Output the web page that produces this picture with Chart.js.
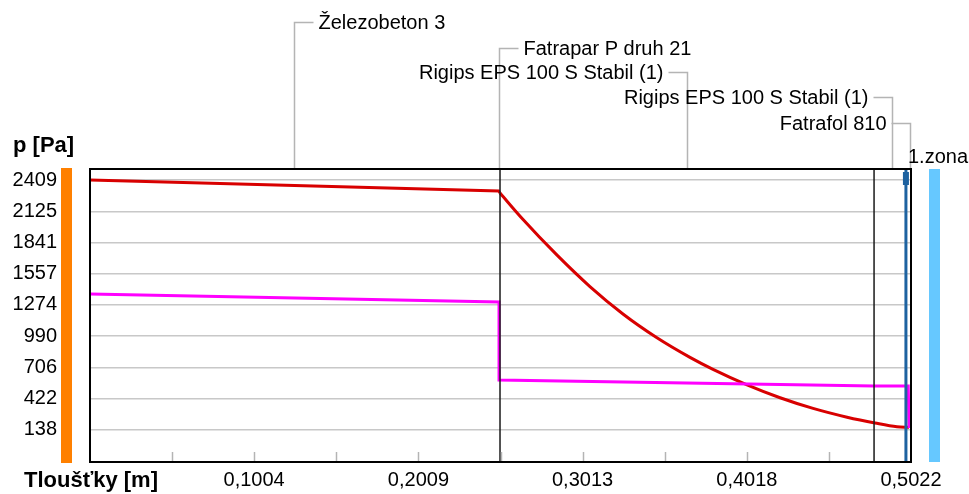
<!DOCTYPE html>
<html>
<head>
<meta charset="utf-8">
<script src="https://cdn.jsdelivr.net/npm/chart.js@4.4.1/dist/chart.umd.min.js"></script>
<style>
  html, body { margin: 0; padding: 0; background: #fff; }
  canvas { display: block; }
</style>
</head>
<body>
<canvas id="pressureChart" width="969" height="494"></canvas>
<script>
// Průběh tlaku vodní páry v konstrukci

// y axis
const pTicks = [138, 422, 706, 990, 1274, 1557, 1841, 2125, 2409];
const pMin = -153;
const pMax = 2518;

// x axis (labelled ticks + small ticks between them)
const xTicks = [0.1004, 0.2009, 0.3013, 0.4018, 0.5022];
const xTickLabels = ['0,1004', '0,2009', '0,3013', '0,4018', '0,5022'];
const xMinorTicks = [0.0502, 0.1506, 0.2511, 0.3515, 0.4520];

// layers of the wall
const layerNames = ['Železobeton 3', 'Fatrapar P druh 21', 'Rigips EPS 100 S Stabil (1)', 'Rigips EPS 100 S Stabil (1)', 'Fatrafol 810'];
const layerEdges = [0, 0.25, 0.2508, 0.4796, 0.5014, 0.5022];
const layerLines = [0.2508, 0.4796];

// saturated vapour pressure (red)
const psatX = [0, 0.25, 0.2508, 0.2649, 0.2857, 0.3058, 0.3260, 0.3468, 0.3670, 0.3811, 0.4019, 0.4221, 0.4423, 0.4631, 0.4802, 0.4936, 0.5010];
const psatY = [2409, 2309, 2291, 2050, 1726, 1441, 1192, 976, 798, 689, 548, 431, 334, 254, 201, 167, 162];

// partial vapour pressure (magenta)
const pX = [0, 0.2502, 0.2502, 0.4796, 0.5005, 0.5010];
const pY = [1373, 1301, 592, 538, 538, 156];

// condensation zone
const zoneX = 0.4991;
const zoneName = '1.zona';

const FONT = '"Liberation Sans", Arial, sans-serif';
const RED = '#d80000';

function pts(xs, ys) {
    return xs.map((x, i) => ({x: x, y: ys[i]}));
}

const datasets = [];

// layer boundaries
layerLines.forEach(b => {
    datasets.push({
        data: [{x: b, y: pMin}, {x: b, y: pMax}],
        borderColor: '#1a1a1a',
        borderWidth: 1.5,
        pointRadius: 0
    });
});

// zone line + small marker on top
datasets.push({
    data: [{x: zoneX, y: pMin}, {x: zoneX, y: pMax}],
    borderColor: '#1d62a0',
    borderWidth: 3,
    pointRadius: 0
});
datasets.push({
    data: [{x: zoneX, y: 2482}, {x: zoneX, y: 2364}],
    borderColor: '#1d62a0',
    borderWidth: 6,
    pointRadius: 0
});

datasets.push({
    label: 'p',
    data: pts(pX, pY),
    borderColor: '#ff00ff',
    borderWidth: 3,
    pointRadius: 0,
    tension: 0
});
// p,sat: straight through the concrete, curved in the insulation
datasets.push({
    label: 'p,sat',
    data: pts(psatX, psatY).slice(0, 3),
    borderColor: RED,
    borderWidth: 3,
    pointRadius: 0,
    tension: 0
});
datasets.push({
    label: 'p,sat',
    data: pts(psatX, psatY).slice(2),
    borderColor: RED,
    borderWidth: 3,
    pointRadius: 0,
    cubicInterpolationMode: 'monotone'
});

const decor = {
    id: 'decor',
    afterDatasetsDraw(chart) {
        const ctx = chart.ctx;
        const a = chart.chartArea;
        const xs = chart.scales.x;
        ctx.save();
        // small ticks inside the plot
        ctx.strokeStyle = '#b4b4b4';
        ctx.lineWidth = 1.5;
        xMinorTicks.concat(xTicks.slice(0, -1)).forEach(v => {
            const px = Math.round(xs.getPixelForValue(v)) + 0.5;
            ctx.beginPath();
            ctx.moveTo(px, a.bottom);
            ctx.lineTo(px, a.bottom - 10);
            ctx.stroke();
        });
        // frame
        ctx.strokeStyle = '#000';
        ctx.lineWidth = 2;
        ctx.strokeRect(a.left, a.top + 1, a.right - a.left, a.bottom - a.top - 1);
        ctx.restore();
    },
    afterDraw(chart) {
        const ctx = chart.ctx;
        const a = chart.chartArea;
        const xs = chart.scales.x;
        ctx.save();

        // side bars
        ctx.fillStyle = '#ff8000';
        ctx.fillRect(61, a.top, 11, a.bottom - a.top + 1);
        ctx.fillStyle = '#66c8ff';
        ctx.fillRect(929, a.top + 1, 11, a.bottom - a.top - 1);

        // axis titles
        ctx.fillStyle = '#000';
        ctx.font = 'bold 22px ' + FONT;
        ctx.textBaseline = 'middle';
        ctx.textAlign = 'left';
        ctx.fillText('p [Pa]', 13, 146);
        ctx.fillText('Tloušťky [m]', 24, 481);

        // layer names with connectors
        const rows = [22, 48, 72, 97, 123];
        const side = ['r', 'r', 'l', 'l', 'l'];
        ctx.font = '20px ' + FONT;
        ctx.strokeStyle = '#b4b4b4';
        ctx.lineWidth = 1.5;
        layerNames.forEach((name, i) => {
            const mid = (layerEdges[i] + layerEdges[i + 1]) / 2;
            const px = Math.round(xs.getPixelForValue(mid)) + 0.5;
            const y = rows[i] + 0.5;
            const end = side[i] === 'r' ? px + 19 : px - 19;
            ctx.beginPath();
            ctx.moveTo(end, y);
            ctx.lineTo(px, y);
            ctx.lineTo(px, a.top);
            ctx.stroke();
            if (side[i] === 'r') {
                ctx.textAlign = 'left';
                ctx.fillText(name, px + 24, rows[i] + 1);
            } else {
                ctx.textAlign = 'right';
                ctx.fillText(name, px - 24, rows[i] + 1);
            }
        });

        ctx.textAlign = 'left';
        ctx.fillText(zoneName, 908, 157);
        ctx.restore();
    }
};

new Chart(document.getElementById('pressureChart'), {
    type: 'line',
    data: { datasets: datasets },
    options: {
        responsive: false,
        animation: false,
        layout: { padding: { top: 168, right: 58, left: 0, bottom: 0 } },
        plugins: {
            legend: { display: false },
            tooltip: { enabled: false }
        },
        scales: {
            x: {
                type: 'linear',
                min: 0,
                max: 0.5022,
                grid: { display: false, drawTicks: false },
                border: { display: false },
                afterBuildTicks: s => { s.ticks = xTicks.map(v => ({value: v})); },
                afterFit: s => { s.height = 32; },
                ticks: {
                    color: '#000',
                    padding: 6,
                    maxRotation: 0,
                    autoSkip: false,
                    font: { family: FONT, size: 20 },
                    callback: (v, i) => xTickLabels[i]
                }
            },
            y: {
                min: pMin,
                max: pMax,
                grid: {
                    color: '#c8c8c8',
                    lineWidth: 1.5,
                    drawTicks: true,
                    tickLength: 33,
                    tickColor: 'rgba(0,0,0,0)'
                },
                border: { display: false },
                afterBuildTicks: s => { s.ticks = pTicks.map(v => ({value: v})); },
                afterFit: s => { s.width = 90; },
                ticks: {
                    color: '#000',
                    padding: 0,
                    autoSkip: false,
                    font: { family: FONT, size: 20 },
                    callback: v => String(v)
                }
            }
        }
    },
    plugins: [decor]
});
</script>
</body>
</html>
